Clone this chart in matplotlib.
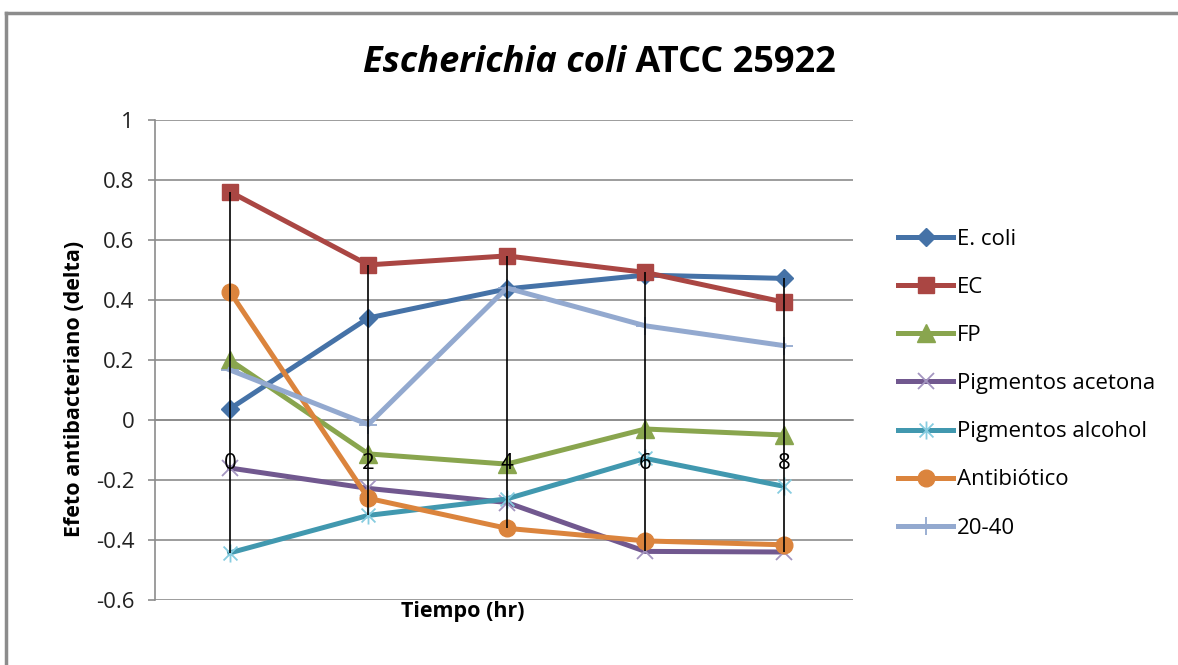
import matplotlib
matplotlib.use("Agg")
import matplotlib.pyplot as plt
from matplotlib.path import Path
from matplotlib.lines import Line2D
import numpy as np

plt.rcParams['font.family'] = ['Open Sans', 'DejaVu Sans']

categories = ["0", "2", "4", "6", "8"]
ecoli = [0.037, 0.340, 0.437, 0.483, 0.472]
ec = [0.761, 0.517, 0.547, 0.492, 0.393]
fp = [0.200, -0.113, -0.147, -0.030, -0.050]
acetona = [-0.160, -0.228, -0.275, -0.438, -0.440]
alcohol = [-0.443, -0.318, -0.263, -0.128, -0.221]
antibiotico = [0.428, -0.261, -0.361, -0.403, -0.416]
s2040 = [0.167, -0.015, 0.440, 0.314, 0.248]

series_names = ["E. coli", "EC", "FP", "Pigmentos acetona", "Pigmentos alcohol", "Antibiótico", "20-40"]
yticks = [-0.6, -0.4, -0.2, 0, 0.2, 0.4, 0.6, 0.8, 1]
ytick_labels = ["-0.6", "-0.4", "-0.2", "0", "0.2", "0.4", "0.6", "0.8", "1"]

W, H = 1178, 665
fig = plt.figure(figsize=(W/100, H/100), dpi=100)
ax = fig.add_axes([155/W, 1-600/H, (853-155)/W, (600-120)/H])

x = np.arange(len(categories))

# star marker (x + vertical bar)
star = Path([(-1, -1), (1, 1), (-1, 1), (1, -1), (0, -1.3), (0, 1.3)],
            [Path.MOVETO, Path.LINETO, Path.MOVETO, Path.LINETO, Path.MOVETO, Path.LINETO])

lw = 3.6
specs = [
    (ecoli, dict(color="#4572A7", marker="D", ms=9, mec="#4572A7")),
    (ec, dict(color="#AA4643", marker="s", ms=12, mec="#AA4643")),
    (fp, dict(color="#89A54E", marker="^", ms=13, mec="#89A54E")),
    (acetona, dict(color="#71588F", marker="x", ms=12, mec="#A395C0", mew=1.3)),
    (alcohol, dict(color="#4198AF", marker=star, ms=13, mec="#86CCE0", mew=1.3)),
    (antibiotico, dict(color="#DB843D", marker="o", ms=12, mec="#DB843D")),
    (s2040, dict(color="#93A9CF", marker="+", ms=13, mec="#93A9CF", mew=1.3)),
]

allv = np.array([s for s, _ in specs])
hi = allv.max(axis=0)
lo = allv.min(axis=0)
ax.vlines(x, lo, hi, colors="black", lw=1.2, zorder=5)

handles = []
for (vals, kw), name in zip(specs, series_names):
    l, = ax.plot(x, vals, lw=lw, label=name, zorder=3, solid_joinstyle="round", **kw)
    handles.append(l)

ax.set_xlim(-0.54, 4.5)
ax.set_ylim(-0.6, 1)
ax.set_yticks(yticks)
ax.set_yticklabels(ytick_labels, fontsize=16, color="#222222")
ax.yaxis.grid(True, color="#8C8C8C", lw=1.2)
ax.set_axisbelow(True)
ax.tick_params(axis="y", length=5, width=1.2, color="#8C8C8C", pad=10)
for s in ["top", "right"]:
    ax.spines[s].set_visible(False)
ax.spines["left"].set_color("#8C8C8C")
ax.spines["left"].set_linewidth(1.2)
ax.spines["bottom"].set_position(("data", 0))
ax.spines["bottom"].set_color("#8C8C8C")
ax.spines["bottom"].set_linewidth(1.2)
ax.set_xticks(x)
ax.set_xticklabels([])
ax.tick_params(axis="x", length=0)
for xi, lab in zip(x, categories):
    ax.annotate(lab, xy=(xi, 0), xytext=(0, -31), textcoords="offset points",
                ha="center", va="center", fontsize=16, color="black", zorder=10)

fig.text(75/W, 1-389/H, "Efeto antibacteriano (delta)", rotation=90, ha="center", va="center",
         fontsize=15.5, fontweight="bold")
fig.text(463/W, 1-612/H, "Tiempo (hr)", ha="center", va="center", fontsize=15.5, fontweight="bold")

# title
fig.text(626/W, 1-63/H, "Escherichia coli", ha="right", va="center", fontsize=26,
         style="italic", fontweight="bold")
fig.text(626/W, 1-63/H, " ATCC 25922", ha="left", va="center", fontsize=26, fontweight="bold")

leg = fig.legend(handles=handles, loc="upper left", bbox_to_anchor=(889/W, 1-220/H),
                 frameon=False, fontsize=16, handlelength=2.5, handletextpad=0.15,
                 labelspacing=1.22, borderaxespad=0)

# frame (left and top visible)
fig.add_artist(Line2D([6/W, 6/W], [0, 1-13/H], color="#8C8C8C", lw=2.5, transform=fig.transFigure))
fig.add_artist(Line2D([6/W, 1], [1-13/H, 1-13/H], color="#8C8C8C", lw=2.5, transform=fig.transFigure))

fig.savefig("out.png", dpi=100)
